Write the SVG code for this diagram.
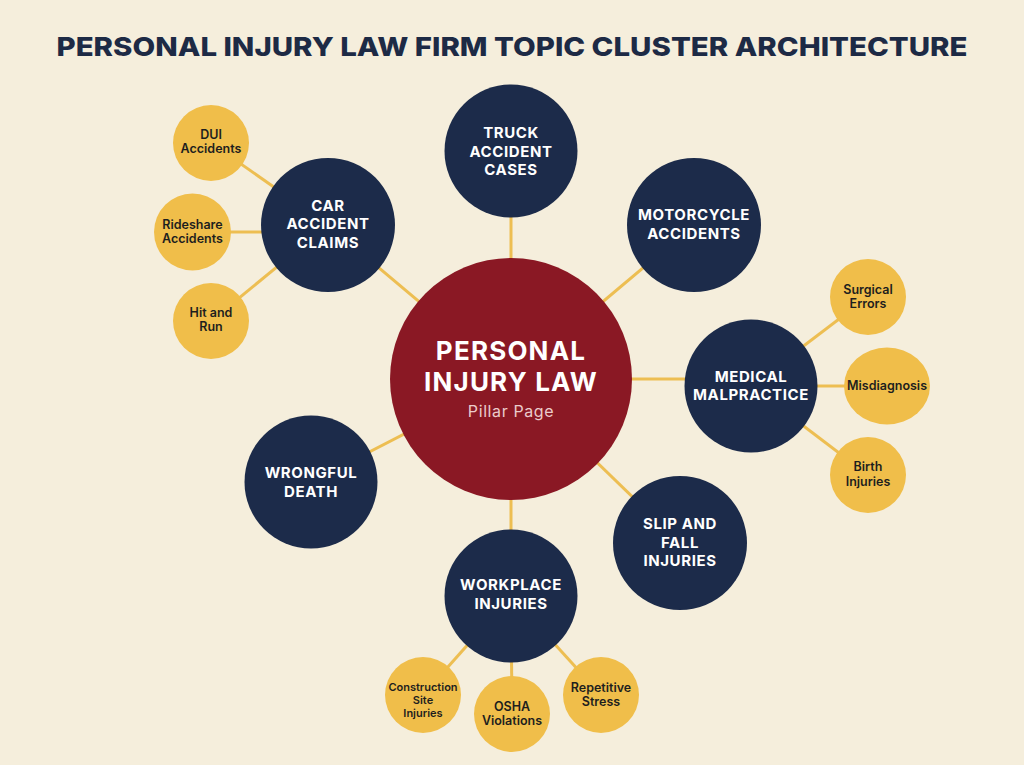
<svg xmlns="http://www.w3.org/2000/svg" width="1024" height="765" viewBox="0 0 1024 765">
<style>
.bg{fill:#F5EEDC}
.title{font-family:Inter,"Open Sans","Liberation Sans",sans-serif;font-weight:800;font-size:26px;fill:#1D2A45;text-anchor:middle}
.pillar{fill:#8A1824}
.cluster{fill:#1C2B4A}
.sub{fill:#F0BE4A}
.conn line{stroke:#EDBE52;stroke-width:3}
.ct{font-family:Inter,"Open Sans","Liberation Sans",sans-serif;font-weight:700;font-size:15px;letter-spacing:0.6px;fill:#FFFFFF;text-anchor:middle}
.pt{font-family:Inter,"Open Sans","Liberation Sans",sans-serif;font-weight:700;font-size:26px;letter-spacing:1.2px;fill:#FFFFFF;text-anchor:middle}
.ps{font-family:Inter,"Open Sans","Liberation Sans",sans-serif;font-weight:400;font-size:16px;letter-spacing:0.6px;fill:#EBCBCB;text-anchor:middle}
.st{font-family:Inter,"Open Sans","Liberation Sans",sans-serif;font-weight:600;font-size:12.5px;fill:#1E1E1E;text-anchor:middle}
.sts{font-family:Inter,"Open Sans","Liberation Sans",sans-serif;font-weight:600;font-size:11px;fill:#1E1E1E;text-anchor:middle}
</style>
<rect class="bg" x="0" y="0" width="1024" height="765"/>
<text class="title" x="512" y="56" textLength="911" lengthAdjust="spacingAndGlyphs">PERSONAL INJURY LAW FIRM TOPIC CLUSTER ARCHITECTURE</text>
<g id="connectors" class="conn">
<line x1="511" y1="379" x2="511" y2="151"/>
<line x1="511" y1="379" x2="328" y2="225"/>
<line x1="511" y1="379" x2="694" y2="225"/>
<line x1="511" y1="379" x2="751" y2="379"/>
<line x1="511" y1="379" x2="311" y2="482"/>
<line x1="511" y1="379" x2="680" y2="543"/>
<line x1="511" y1="379" x2="511" y2="596"/>
<line x1="328" y1="225" x2="211" y2="143"/>
<line x1="328" y1="232" x2="192" y2="232"/>
<line x1="328" y1="225" x2="211" y2="321"/>
<line x1="751" y1="386" x2="868" y2="297"/>
<line x1="751" y1="386" x2="887" y2="386"/>
<line x1="751" y1="386" x2="868" y2="475"/>
<line x1="511" y1="596" x2="423" y2="695"/>
<line x1="511" y1="596" x2="512" y2="714"/>
<line x1="511" y1="596" x2="601" y2="695"/>
</g>
<g id="pillar">
<circle class="pillar" cx="511" cy="379" r="121"/>
<text class="pt" x="511" y="360">PERSONAL</text>
<text class="pt" x="511" y="391">INJURY LAW</text>
<text class="ps" x="511" y="417">Pillar Page</text>
</g>
<g id="truck">
<circle class="cluster" cx="511" cy="151" r="66.5"/>
<text class="ct" x="511" y="138">TRUCK</text>
<text class="ct" x="511" y="157">ACCIDENT</text>
<text class="ct" x="511" y="175">CASES</text>
</g>
<g id="car">
<circle class="cluster" cx="328" cy="225" r="67"/>
<text class="ct" x="328" y="211">CAR</text>
<text class="ct" x="328" y="229">ACCIDENT</text>
<text class="ct" x="328" y="248">CLAIMS</text>
</g>
<g id="motorcycle">
<circle class="cluster" cx="694" cy="225" r="67"/>
<text class="ct" x="694" y="220">MOTORCYCLE</text>
<text class="ct" x="694" y="239">ACCIDENTS</text>
</g>
<g id="medical">
<circle class="cluster" cx="751" cy="386" r="66.5"/>
<text class="ct" x="751" y="382">MEDICAL</text>
<text class="ct" x="751" y="400">MALPRACTICE</text>
</g>
<g id="wrongful">
<circle class="cluster" cx="311" cy="482" r="66.5"/>
<text class="ct" x="311" y="478">WRONGFUL</text>
<text class="ct" x="311" y="497">DEATH</text>
</g>
<g id="slip">
<circle class="cluster" cx="680" cy="543" r="67"/>
<text class="ct" x="680" y="529">SLIP AND</text>
<text class="ct" x="680" y="548">FALL</text>
<text class="ct" x="680" y="566">INJURIES</text>
</g>
<g id="workplace">
<circle class="cluster" cx="511" cy="596" r="66.5"/>
<text class="ct" x="511" y="590">WORKPLACE</text>
<text class="ct" x="511" y="609">INJURIES</text>
</g>
<g id="dui">
<circle class="sub" cx="211" cy="143" r="38"/>
<text class="st" x="211" y="139">DUI</text>
<text class="st" x="211" y="153">Accidents</text>
</g>
<g id="rideshare">
<circle class="sub" cx="192.5" cy="232" r="38.5"/>
<text class="st" x="192.5" y="229">Rideshare</text>
<text class="st" x="192.5" y="243">Accidents</text>
</g>
<g id="hitrun">
<circle class="sub" cx="211" cy="321" r="38"/>
<text class="st" x="211" y="317">Hit and</text>
<text class="st" x="211" y="331">Run</text>
</g>
<g id="surgical">
<circle class="sub" cx="868" cy="297" r="38"/>
<text class="st" x="868" y="294">Surgical</text>
<text class="st" x="868" y="308">Errors</text>
</g>
<g id="misdiagnosis">
<ellipse class="sub" cx="887" cy="386" rx="43" ry="38.5"/>
<text class="st" x="887" y="390">Misdiagnosis</text>
</g>
<g id="birth">
<circle class="sub" cx="868" cy="475" r="38"/>
<text class="st" x="868" y="471">Birth</text>
<text class="st" x="868" y="486">Injuries</text>
</g>
<g id="construction">
<circle class="sub" cx="423" cy="695" r="38"/>
<text class="sts" x="423" y="691">Construction</text>
<text class="sts" x="423" y="704">Site</text>
<text class="sts" x="423" y="717">Injuries</text>
</g>
<g id="osha">
<circle class="sub" cx="512" cy="714" r="38"/>
<text class="st" x="512" y="711">OSHA</text>
<text class="st" x="512" y="725">Violations</text>
</g>
<g id="repetitive">
<circle class="sub" cx="601" cy="695" r="38"/>
<text class="st" x="601" y="692">Repetitive</text>
<text class="st" x="601" y="706">Stress</text>
</g>
</svg>
